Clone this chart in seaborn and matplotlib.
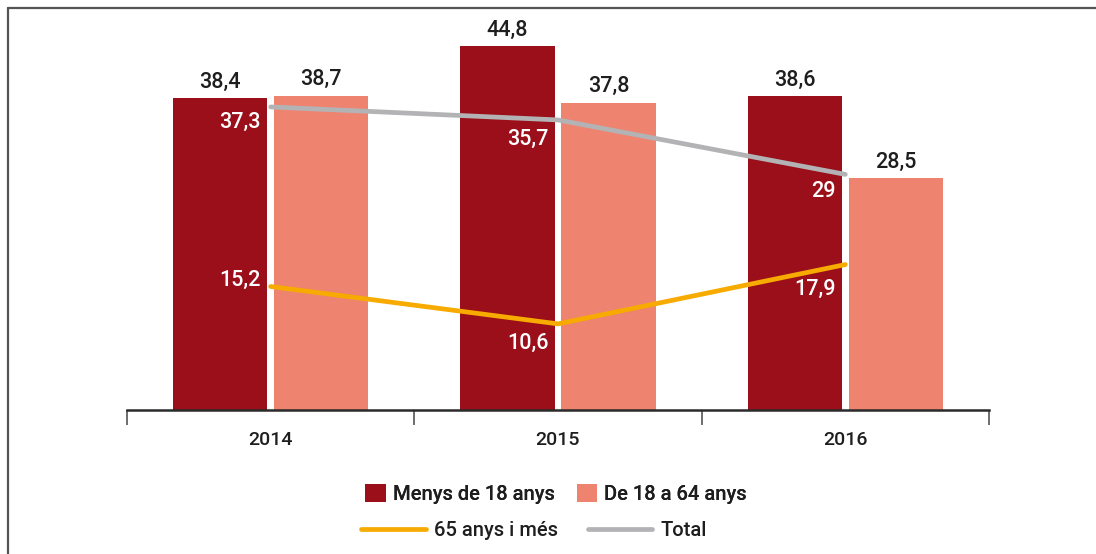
import matplotlib.pyplot as plt
import seaborn as sns
import pandas as pd
import numpy as np
from matplotlib.lines import Line2D
from matplotlib.patches import Patch

# Data
years = ["2014", "2015", "2016"]
groups = ["Menys de 18 anys", "De 18 a 64 anys"]
menys_18 = [38.4, 44.8, 38.6]
de_18_64 = [38.7, 37.8, 28.5]
anys_65 = [15.2, 10.6, 17.9]
total = [37.3, 35.7, 29.0]
line_names = ["65 anys i més", "Total"]

# Colours
c_dark = "#9B0F1A"
c_light = "#EE8370"
c_orange = "#F7AA00"
c_grey = "#B3B3B5"
c_text = "#1E1E1E"


def fmt(v):
    s = f"{v:.1f}".replace(".", ",")
    return s[:-2] if s.endswith(",0") else s


df = pd.DataFrame({
    "year": years * 2,
    "group": [groups[0]] * 3 + [groups[1]] * 3,
    "value": menys_18 + de_18_64,
})

sns.set_theme(style="white")
plt.rcParams["font.family"] = ["Roboto", "DejaVu Sans"]

fig = plt.figure(figsize=(10.96, 5.54), dpi=100)
ax = fig.add_axes([127 / 1096, 1 - 410 / 554, (989 - 127) / 1096, 390 / 554])

sns.barplot(data=df, x="year", y="value", hue="group", palette=[c_dark, c_light],
            width=0.703, gap=0.069, saturation=1, linewidth=0, ax=ax, legend=False)

for cont in ax.containers:
    ax.bar_label(cont, labels=[fmt(v) for v in cont.datavalues], padding=4,
                 fontsize=15.5, fontweight="medium", color=c_text)

xpos = np.arange(len(years))
sns.lineplot(x=xpos, y=total, color=c_grey, linewidth=3.4, ax=ax,
             solid_capstyle="round", zorder=5)
sns.lineplot(x=xpos, y=anys_65, color=c_orange, linewidth=3.4, ax=ax,
             solid_capstyle="round", zorder=5)

# white labels next to line points (pixel offsets)
offsets_total = [-15, -19, -17]
offsets_65 = [6, -19, -25]
for series, offs in ((total, offsets_total), (anys_65, offsets_65)):
    for x, v, dy in zip(xpos, series, offs):
        ax.annotate(fmt(v), (x, v), xytext=(-7, dy * 0.72), textcoords="offset points",
                    ha="right", va="center", color="white", fontsize=15.5,
                    fontweight="medium", zorder=6)

ax.set_ylim(0, 48)
ax.set_xlim(-0.5, 2.5)
ax.set_xlabel("")
ax.set_ylabel("")
ax.set_yticks([])
for s in ["top", "right", "left"]:
    ax.spines[s].set_visible(False)
ax.spines["bottom"].set_color("#2a2a2a")
ax.spines["bottom"].set_linewidth(1.8)

ax.set_xticks(xpos)
ax.set_xticklabels(years, fontsize=14, fontweight="medium", color=c_text)
ax.tick_params(axis="x", which="major", length=0, pad=15)
ax.set_xticks([-0.5, 0.5, 1.5, 2.5], minor=True)
ax.tick_params(axis="x", which="minor", length=11, width=1.2, color="#555555",
               direction="out", bottom=True)

# legends
bar_handles = [Patch(facecolor=c_dark, edgecolor="none"), Patch(facecolor=c_light, edgecolor="none")]
leg1 = fig.legend(bar_handles, groups, loc="center", bbox_to_anchor=(556 / 1096, 1 - 494 / 554),
                  ncol=2, frameon=False, handlelength=1.0, handleheight=1.0,
                  handletextpad=0.35, columnspacing=1.1, labelcolor=c_text,
                  prop={"size": 14.5, "weight": "medium"})
line_handles = [Line2D([], [], color=c_orange, lw=3.4), Line2D([], [], color=c_grey, lw=3.4)]
fig.legend(line_handles, line_names, loc="center", bbox_to_anchor=(534 / 1096, 1 - 531 / 554),
           ncol=2, frameon=False, handlelength=3.2,
           handletextpad=0.4, columnspacing=1.5, labelcolor=c_text,
           prop={"size": 14.5, "weight": "medium"})
fig.add_artist(leg1)

# frame around the figure (top and left edges visible)
fig.add_artist(Line2D([8 / 1096, 1], [1 - 8 / 554] * 2, color="#555555", lw=1.6,
                      transform=fig.transFigure))
fig.add_artist(Line2D([8 / 1096] * 2, [0, 1 - 8 / 554], color="#555555", lw=1.6,
                      transform=fig.transFigure))

fig.savefig("out.png", dpi=100)
